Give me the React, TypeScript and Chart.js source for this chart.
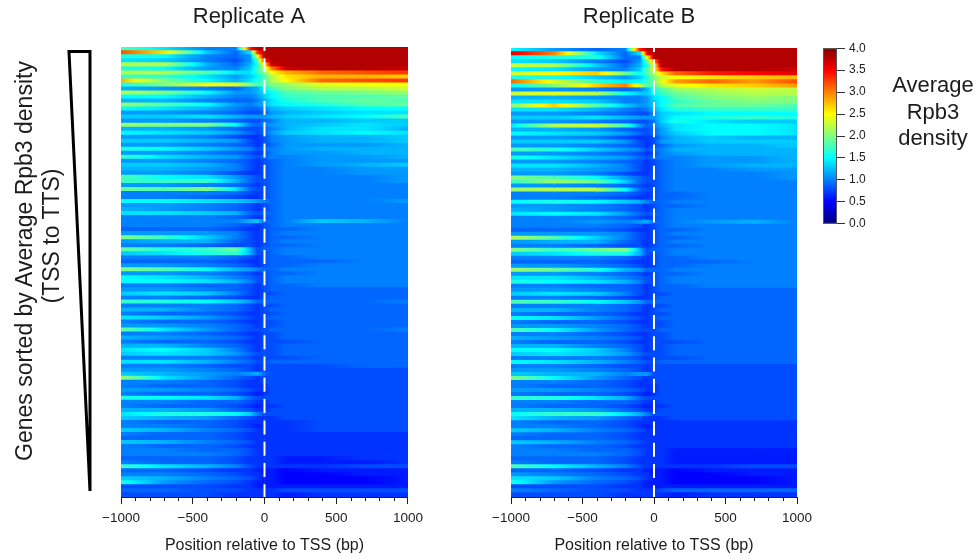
import React, { useEffect, useRef } from "react";
import { Chart, registerables } from "chart.js";

Chart.register(...registerables);

const FONT = "'Liberation Sans', Arial, sans-serif";
const INK = "#1c1c1c";

const columnPositions = [-1000, -700, -400, -200, -100, -50, 0, 50, 150, 400, 700, 1000];
const majorTicks = [-1000, -500, 0, 500, 1000];
const minorTicks = [-900, -800, -700, -600, -400, -300, -200, -100, 100, 200, 300, 400, 600, 700, 800, 900];
const colorbarRange = [0, 4];
const colorbarStep = 0.5;

// Density per gene row (top to bottom) in tenths, one value per column position.
const replicateA: number[][] = [
  [18,14,10,10,34,38,38,38,38,38,38,38],[32,26,13,9,14,33,38,38,38,38,38,38],[16,15,10,9,11,24,38,38,38,38,38,38],
  [14,13,10,8,11,18,34,38,38,38,38,38],[22,22,12,9,12,16,26,37,38,38,38,38],[16,15,11,10,13,17,22,30,37,38,38,37],
  [22,22,18,14,14,17,20,25,28,31,32,33],[17,17,14,11,13,15,18,22,26,28,28,27],[28,20,15,12,14,16,18,22,25,31,32,33],
  [16,20,25,24,20,18,18,20,21,24,25,25],[12,11,10,9,11,12,15,18,20,22,22,23],[22,20,15,11,11,12,14,15,18,19,20,21],
  [15,15,12,10,10,11,13,15,17,18,18,19],[12,12,10,9,9,10,12,14,16,18,19,18],[21,18,15,11,10,11,12,14,15,16,18,19],
  [15,14,12,10,9,9,10,12,13,14,15,15],[11,11,10,9,8,8,9,11,12,13,14,14],[13,13,14,12,11,11,11,12,13,14,15,18],
  [11,11,10,9,8,8,9,10,12,12,13,13],[21,20,20,15,10,9,10,11,12,13,14,13],[12,12,11,9,8,8,9,10,12,14,14,12],
  [15,14,13,11,9,8,9,11,13,14,15,14],[11,11,10,8,7,7,8,10,11,12,12,13],[13,13,12,11,8,7,8,10,11,12,12,13],
  [11,11,10,9,8,7,8,9,11,11,11,12],[16,15,13,11,10,8,9,10,11,12,12,12],[11,11,10,9,8,7,8,10,11,11,12,12],
  [17,14,12,11,9,8,9,10,10,11,11,12],[11,11,10,9,8,7,8,9,10,11,11,11],[13,13,12,10,8,7,8,9,10,11,12,13],
  [12,12,11,10,8,7,8,9,10,10,11,11],[11,11,10,8,7,7,8,9,10,10,11,11],[18,15,14,11,9,8,8,9,10,10,10,11],
  [17,17,17,12,9,8,8,9,10,10,10,11],[11,11,10,9,8,7,8,9,10,10,10,10],[19,18,20,14,9,8,8,9,10,10,10,10],
  [10,10,10,9,8,7,8,9,10,10,10,10],[10,10,9,8,7,7,8,9,10,10,10,10],[15,15,14,13,12,11,10,9,10,10,10,11],
  [11,11,10,9,8,7,8,9,10,10,10,10],[12,11,10,9,8,7,8,9,10,10,10,10],[14,14,13,12,9,8,9,9,10,10,10,10],
  [10,10,10,9,8,7,8,9,10,10,10,10],[10,10,10,10,12,13,9,9,10,13,12,10],[10,10,10,9,8,7,8,9,10,10,10,10],
  [9,9,9,8,7,7,8,9,9,10,10,10],[11,11,11,10,8,7,8,9,10,10,10,10],[20,17,13,10,8,7,8,9,9,10,10,10],
  [11,12,12,9,8,7,8,9,10,10,10,10],[10,10,9,8,8,7,8,9,9,10,10,10],[19,16,17,19,12,8,9,9,10,10,10,10],
  [13,14,16,17,12,8,8,9,10,10,10,10],[10,10,10,9,8,7,8,9,9,10,10,10],[9,9,9,8,7,7,8,9,9,9,10,10],
  [11,11,10,9,8,7,8,9,9,10,10,10],[20,18,15,12,11,10,9,9,10,10,10,10],[11,11,10,9,8,7,8,9,9,10,10,10],
  [15,14,12,10,9,8,8,9,10,10,10,10],[15,15,14,12,10,8,8,9,10,10,10,10],[10,10,9,9,8,7,8,9,9,10,10,10],
  [11,11,10,9,8,7,8,9,9,9,9,9],[13,14,13,10,8,7,8,8,9,9,9,9],[10,10,9,8,7,7,8,9,9,9,9,9],
  [17,16,15,13,11,9,9,9,9,9,9,10],[10,10,10,9,8,7,8,8,9,9,9,9],[12,12,10,9,8,7,8,9,9,9,9,9],
  [10,9,9,8,7,7,8,8,9,9,9,9],[14,13,11,9,8,7,8,9,9,9,9,9],[10,9,9,8,7,7,8,8,9,9,9,9],
  [11,11,10,9,8,7,8,8,9,9,9,9],[19,14,11,9,8,8,8,9,9,9,9,10],[10,10,9,8,7,7,8,8,9,9,9,9],
  [12,11,10,9,8,7,8,8,9,9,9,9],[10,9,9,8,7,7,8,8,8,9,9,9],[12,12,10,9,8,7,8,8,9,9,9,9],
  [14,15,13,10,8,7,8,8,9,9,9,9],[13,14,13,11,9,8,8,8,9,9,9,9],[10,10,10,9,8,7,8,8,8,9,9,9],
  [14,14,12,10,9,8,8,9,9,9,9,9],[10,10,9,8,8,7,8,8,8,8,9,9],[11,11,10,9,8,7,8,8,8,8,8,8],
  [13,12,11,10,11,12,9,8,8,8,8,8],[21,14,11,9,8,7,8,8,8,8,8,8],[10,10,9,8,7,7,8,8,8,8,8,8],
  [10,9,9,8,7,7,7,8,8,8,8,8],[11,11,10,9,8,7,7,8,8,8,8,8],[10,9,9,8,7,6,7,8,8,8,8,8],
  [16,15,14,12,9,8,8,8,8,8,8,8],[10,10,9,9,8,7,7,8,8,8,8,8],[10,9,9,8,7,6,7,7,8,8,8,8],
  [12,12,11,9,8,7,7,8,8,8,8,8],[14,16,16,15,13,10,8,8,8,8,8,8],[13,12,11,9,8,7,7,7,8,8,8,8],
  [10,9,9,8,7,7,7,7,7,8,8,8],[10,10,9,8,7,6,7,7,7,8,8,8],[13,12,10,9,8,7,7,7,7,8,8,8],
  [10,9,9,8,7,7,7,7,7,7,7,7],[9,9,9,8,7,7,7,7,7,7,7,7],[13,12,10,9,8,7,7,7,7,7,7,7],
  [10,9,9,8,7,7,7,7,7,7,7,7],[10,10,9,9,8,7,7,7,7,7,7,7],[10,10,10,9,8,7,7,7,7,7,7,7],
  [9,9,9,8,7,7,7,7,6,6,7,7],[10,9,9,8,7,7,7,7,6,6,6,7],[17,14,12,10,8,7,7,7,7,7,8,8],
  [9,9,8,7,7,6,6,6,5,6,6,6],[10,10,9,8,7,7,6,6,5,5,6,6],[13,12,10,9,8,7,6,6,5,5,5,6],
  [16,11,9,8,7,6,6,6,5,5,5,6],[8,8,8,7,7,6,6,6,6,6,6,6],[9,9,8,8,7,7,7,7,8,8,8,8],
  [8,8,8,7,7,7,7,7,6,7,7,7],
];

const replicateB: number[][] = [
  [15,11,9,10,34,38,38,38,38,38,38,38],[36,30,14,9,14,35,38,38,38,38,38,38],[15,16,16,9,10,24,38,38,38,38,38,38],
  [14,13,10,8,11,18,30,38,38,38,38,38],[23,22,13,9,12,16,24,38,38,38,38,38],[15,14,11,10,13,18,24,34,38,38,38,37],
  [23,25,27,19,15,18,22,26,31,34,35,36],[16,16,13,11,13,16,20,23,25,26,27,28],[31,24,17,14,15,17,20,24,29,31,29,32],
  [15,20,27,30,23,18,18,22,24,26,27,29],[11,11,10,9,10,12,16,18,21,22,23,22],[23,24,22,15,13,13,15,17,19,21,22,22],
  [12,12,11,10,10,11,14,15,18,20,21,20],[14,14,13,10,10,11,13,15,17,19,20,20],[20,27,18,13,11,11,13,15,18,19,19,18],
  [14,14,12,10,9,10,12,14,16,17,17,17],[11,11,10,9,8,8,11,13,14,15,15,15],[13,13,14,12,11,11,11,13,15,16,17,16],
  [11,11,10,9,8,8,10,13,16,14,13,13],[14,22,23,17,11,9,10,12,14,15,15,14],[12,12,11,9,8,8,9,11,14,15,15,14],
  [15,14,13,11,9,8,9,11,13,15,15,14],[11,11,10,8,7,7,8,10,12,13,12,12],[13,13,13,11,8,7,8,11,12,13,13,13],
  [11,11,10,9,8,7,8,9,11,12,12,13],[18,16,13,11,10,8,9,10,12,12,12,12],[11,11,10,9,8,7,8,10,11,12,12,12],
  [16,14,12,11,9,8,9,10,10,11,11,12],[11,11,10,9,8,7,8,9,10,11,11,12],[14,14,12,10,8,7,8,9,10,11,12,12],
  [12,12,11,10,8,7,8,9,10,10,11,11],[11,11,10,8,7,7,8,9,10,10,10,11],[20,18,15,11,9,8,8,9,10,10,10,11],
  [17,21,19,13,9,8,8,9,10,10,10,10],[11,11,10,9,8,7,8,9,10,10,10,10],[21,22,22,15,9,8,8,9,10,10,10,10],
  [10,10,10,9,8,7,8,9,9,10,10,10],[10,10,9,8,7,7,8,9,9,10,10,10],[15,16,15,13,12,10,9,9,10,10,10,10],
  [11,11,10,9,8,7,8,9,9,10,10,10],[12,11,10,9,8,7,8,9,10,10,10,10],[14,15,14,11,9,8,9,9,10,10,10,10],
  [10,10,10,9,8,7,8,9,10,10,10,10],[10,10,11,10,11,12,9,9,10,11,12,10],[10,10,10,9,8,7,8,9,10,10,10,10],
  [9,9,9,8,7,7,8,9,9,10,10,10],[11,11,11,10,8,7,8,9,10,10,10,10],[22,18,13,10,8,7,8,9,9,10,10,10],
  [11,12,12,9,8,7,8,9,10,10,10,10],[10,10,9,8,8,7,8,9,9,10,10,10],[20,17,19,20,12,8,9,9,10,10,10,10],
  [13,14,16,16,12,8,8,9,10,10,10,10],[10,10,10,9,8,7,8,9,9,10,10,10],[9,9,9,8,7,7,8,9,9,9,10,10],
  [11,11,10,9,8,7,8,9,9,10,10,10],[21,19,16,12,11,9,9,9,10,10,10,10],[11,11,10,9,8,7,8,9,9,10,10,10],
  [14,14,12,10,9,8,8,9,10,10,10,10],[16,15,14,12,10,8,8,9,10,10,10,10],[10,10,9,9,8,7,8,9,9,10,10,10],
  [11,11,10,9,8,7,8,9,9,9,9,9],[13,14,13,10,8,7,8,8,9,9,9,9],[10,10,9,8,7,7,8,9,9,9,9,9],
  [18,17,15,13,11,9,9,9,9,9,9,9],[10,10,10,9,8,7,8,8,9,9,9,9],[12,12,10,9,8,7,8,9,9,9,9,9],
  [10,9,9,8,7,7,8,8,9,9,9,9],[15,14,11,9,8,7,8,9,9,9,9,9],[10,9,9,8,7,7,8,8,9,9,9,9],
  [11,11,10,9,8,7,8,8,9,9,9,9],[18,15,11,9,8,8,8,9,9,9,9,9],[10,10,9,8,7,7,8,8,9,9,9,9],
  [12,11,10,9,8,7,8,8,9,9,9,9],[10,9,9,8,7,7,8,8,8,9,9,9],[12,12,10,9,8,7,8,8,9,9,9,9],
  [15,15,13,10,8,7,8,8,9,9,9,9],[13,14,13,11,9,8,8,8,9,9,9,9],[10,10,10,9,8,7,8,8,8,9,9,9],
  [15,14,12,10,9,8,8,9,9,9,9,9],[10,10,9,8,8,7,8,8,8,8,8,8],[11,11,10,9,8,7,8,8,8,8,8,8],
  [13,12,12,10,11,11,8,8,8,8,8,8],[20,15,11,9,8,7,8,8,8,8,8,8],[10,10,9,8,7,7,8,8,8,8,8,8],
  [10,9,9,8,7,7,7,8,8,8,8,8],[11,11,10,9,8,7,7,8,8,8,8,8],[10,9,9,8,7,6,7,8,8,8,8,8],
  [17,16,14,12,9,8,8,8,8,8,8,8],[10,10,9,9,8,7,7,8,8,8,8,8],[10,9,9,8,7,6,7,7,8,8,8,8],
  [12,12,11,9,8,7,7,8,8,8,8,8],[15,17,17,14,12,10,8,8,8,8,8,8],[14,12,11,9,8,7,7,7,8,8,8,8],
  [10,9,9,8,7,7,7,7,7,7,7,7],[10,10,9,8,7,6,7,7,7,7,7,7],[13,12,10,9,8,7,7,7,7,7,7,7],
  [10,9,9,8,7,7,7,7,7,7,7,7],[9,9,9,8,7,7,7,7,7,7,7,7],[13,12,10,9,8,7,7,7,7,7,7,7],
  [10,9,9,8,7,7,7,7,7,7,7,7],[10,10,9,9,8,7,7,7,6,6,6,6],[10,10,10,9,8,7,7,7,6,6,6,6],
  [9,9,9,8,7,7,7,7,6,6,6,6],[10,9,9,8,7,7,7,7,6,6,6,6],[18,15,12,10,8,7,7,7,7,7,8,8],
  [9,9,8,7,7,6,6,6,5,6,6,6],[11,10,9,8,7,7,6,6,5,5,6,6],[14,13,10,9,8,7,6,6,5,5,5,6],
  [16,11,9,8,7,6,6,6,5,5,5,6],[8,8,8,7,7,6,6,6,6,6,6,6],[10,9,8,8,7,7,7,8,9,9,9,9],
  [8,8,8,7,7,7,7,7,6,7,7,7],
];

function jet(value: number): string {
  const t = Math.max(0, Math.min(1, value / 4));
  const channel = (c: number) => Math.round(255 * Math.max(0, Math.min(1, c)));
  const r = 1.5 - Math.abs(4 * t - 3);
  const g = 1.5 - Math.abs(4 * t - 2);
  const b = 1.5 - Math.abs(4 * t - 1);
  return `rgb(${channel(r)},${channel(g)},${channel(b)})`;
}

function fillStops(gradient: CanvasGradient, from: number, to: number) {
  const steps = 6;
  for (let i = 0; i <= steps; i++) {
    gradient.addColorStop(i / steps, jet(from + ((to - from) * i) / steps));
  }
  return gradient;
}

const overlayPlugin = {
  id: "tssOverlay",
  afterDatasetsDraw(chart: any) {
    const { ctx, chartArea, scales } = chart;
    const zero = scales.x.getPixelForValue(0);
    ctx.save();
    ctx.strokeStyle = "#ffffff";
    ctx.lineWidth = 2;
    ctx.setLineDash([14, 7.3]);
    ctx.lineDashOffset = 10;
    ctx.beginPath();
    ctx.moveTo(zero, chartArea.top);
    ctx.lineTo(zero, chartArea.bottom);
    ctx.stroke();
    ctx.restore();
  },
  afterDraw(chart: any) {
    const { ctx, chartArea, scales } = chart;
    ctx.save();
    ctx.strokeStyle = INK;
    ctx.lineWidth = 1;
    minorTicks.forEach((value) => {
      const x = Math.round(scales.x.getPixelForValue(value)) + 0.5;
      ctx.beginPath();
      ctx.moveTo(x, chartArea.bottom);
      ctx.lineTo(x, chartArea.bottom + 4);
      ctx.stroke();
    });
    ctx.restore();
  },
};

function Heatmap({ title, rows, left, width, leftAxis, rightPad, titlePad }: any) {
  const ref = useRef<HTMLCanvasElement>(null);
  useEffect(() => {
    const labels = rows.map((_: number[], i: number) => `gene ${i + 1}`);
    const datasets = columnPositions.slice(0, -1).map((start, col) => ({
      label: `${start}`,
      data: rows.map(() => [start, columnPositions[col + 1]]),
      borderWidth: 0,
      barPercentage: 1,
      categoryPercentage: 1,
      grouped: false,
      inflateAmount: 0.7,
      backgroundColor: (c: any) => {
        if (c.dataIndex === undefined) return "#0050f0";
        const x = c.chart.scales.x;
        const x0 = x?.getPixelForValue(start);
        const x1 = x?.getPixelForValue(columnPositions[col + 1]);
        if (!Number.isFinite(x0) || !Number.isFinite(x1)) return "#0050f0";
        const row = rows[c.dataIndex];
        return fillStops(c.chart.ctx.createLinearGradient(x0, 0, x1, 0), row[col] / 10, row[col + 1] / 10);
      },
    }));
    const chart = new Chart(ref.current!, {
      type: "bar",
      data: { labels, datasets },
      plugins: [overlayPlugin],
      options: {
        animation: false,
        responsive: false,
        events: [],
        indexAxis: "y",
        layout: { padding: { left: 0, right: rightPad, top: 0, bottom: 0 } },
        plugins: {
          legend: { display: false },
          tooltip: { enabled: false },
          title: {
            display: true,
            text: title,
            color: INK,
            font: { family: FONT, size: 22, weight: "normal", lineHeight: 1.2 },
            padding: titlePad,
          },
        },
        scales: {
          x: {
            type: "linear",
            min: -1000,
            max: 1000,
            afterBuildTicks: (s: any) => { s.ticks = majorTicks.map((value) => ({ value })); },
            afterFit: (s: any) => { s.height = 62; },
            border: { color: INK, width: 1 },
            grid: { drawOnChartArea: false, tickLength: 7, tickColor: INK },
            ticks: {
              autoSkip: false,
              maxRotation: 0,
              padding: 6,
              color: INK,
              font: { family: FONT, size: 13.5 },
              callback: (v: any) => (v < 0 ? `\u2212${Math.abs(v)}` : `${v}`),
            },
            title: {
              display: true,
              text: "Position relative to TSS (bp)",
              color: INK,
              font: { family: FONT, size: 16 },
              padding: { top: 0, bottom: 4 },
            },
          },
          y: {
            type: "category",
            display: true,
            afterFit: (s: any) => { s.width = leftAxis; },
            border: { display: false },
            grid: { display: false },
            ticks: { display: false },
          },
        },
      },
    } as any);
    return () => chart.destroy();
  }, []);
  return (
    <canvas
      ref={ref}
      width={width}
      height={559}
      style={{ position: "absolute", left, top: 0, width, height: 559, filter: "blur(0.6px)" }}
    />
  );
}

function Colorbar() {
  const ref = useRef<HTMLCanvasElement>(null);
  useEffect(() => {
    const frame = {
      id: "barFrame",
      afterDatasetsDraw(chart: any) {
        const { ctx, chartArea: a } = chart;
        ctx.save();
        ctx.strokeStyle = "#555555";
        ctx.lineWidth = 1;
        ctx.strokeRect(a.left + 0.5, a.top + 0.5, a.right - a.left - 1, a.bottom - a.top - 1);
        ctx.restore();
      },
    };
    const chart = new Chart(ref.current!, {
      type: "bar",
      data: {
        labels: ["density"],
        datasets: [
          {
            label: "Average Rpb3 density",
            data: [colorbarRange],
            borderWidth: 0,
            barPercentage: 1,
            categoryPercentage: 1,
            backgroundColor: (c: any) => {
              if (c.dataIndex === undefined) return "#0050f0";
              const y = c.chart.scales.y;
              const y0 = y?.getPixelForValue(colorbarRange[0]);
              const y1 = y?.getPixelForValue(colorbarRange[1]);
              if (!Number.isFinite(y0) || !Number.isFinite(y1)) return "#0050f0";
              const g = c.chart.ctx.createLinearGradient(0, y0, 0, y1);
              const stops = 16;
              for (let i = 0; i <= stops; i++) g.addColorStop(i / stops, jet((colorbarRange[1] * i) / stops));
              return g;
            },
          },
        ],
      },
      plugins: [frame],
      options: {
        animation: false,
        responsive: false,
        events: [],
        layout: { padding: { left: 13, top: 8, right: 0, bottom: 11 } },
        plugins: { legend: { display: false }, tooltip: { enabled: false }, title: { display: false } },
        scales: {
          x: { display: false },
          y: {
            position: "right",
            min: colorbarRange[0],
            max: colorbarRange[1],
            afterFit: (s: any) => { s.width = 53; },
            border: { display: false },
            grid: { drawOnChartArea: false, tickLength: 8, tickColor: "#333333" },
            ticks: {
              stepSize: colorbarStep,
              padding: 4,
              color: INK,
              font: { family: FONT, size: 12 },
              callback: (v: any) => Number(v).toFixed(1),
            },
          },
        },
      },
    } as any);
    return () => chart.destroy();
  }, []);
  return (
    <canvas
      ref={ref}
      width={80}
      height={198}
      style={{ position: "absolute", left: 810, top: 37, width: 80, height: 198 }}
    />
  );
}

const rotated = (x: number, y: number): React.CSSProperties => ({
  position: "absolute",
  left: x,
  top: y,
  transform: "translate(-50%, -50%) rotate(-90deg)",
  whiteSpace: "nowrap",
  fontFamily: FONT,
  fontSize: 23,
  color: INK,
});

export default function App() {
  return (
    <div style={{ position: "fixed", left: 0, top: 0, width: 977, height: 559, background: "#fff", overflow: "hidden" }}>
      <Heatmap title="Replicate A" rows={replicateA} left={89} width={340} leftAxis={32} rightPad={20} titlePad={{ top: 4, bottom: 16.6 }} />
      <Heatmap title="Replicate B" rows={replicateB} left={481} width={340} leftAxis={30} rightPad={24} titlePad={{ top: 4, bottom: 17.6 }} />
      <Colorbar />
      <svg width={110} height={500} style={{ position: "absolute", left: 0, top: 0 }}>
        <polygon points="69,51.5 90,51.5 90,491" fill="none" stroke="#000" strokeWidth={3} strokeLinejoin="miter" />
      </svg>
      <div style={rotated(24, 261)}>Genes sorted by Average Rpb3 density</div>
      <div style={rotated(51, 236)}>(TSS to TTS)</div>
      <div style={{ position: "absolute", left: 883, top: 72, width: 100, textAlign: "center", fontFamily: FONT, fontSize: 22, lineHeight: "26.5px", color: INK }}>
        Average<br />Rpb3<br />density
      </div>
    </div>
  );
}
